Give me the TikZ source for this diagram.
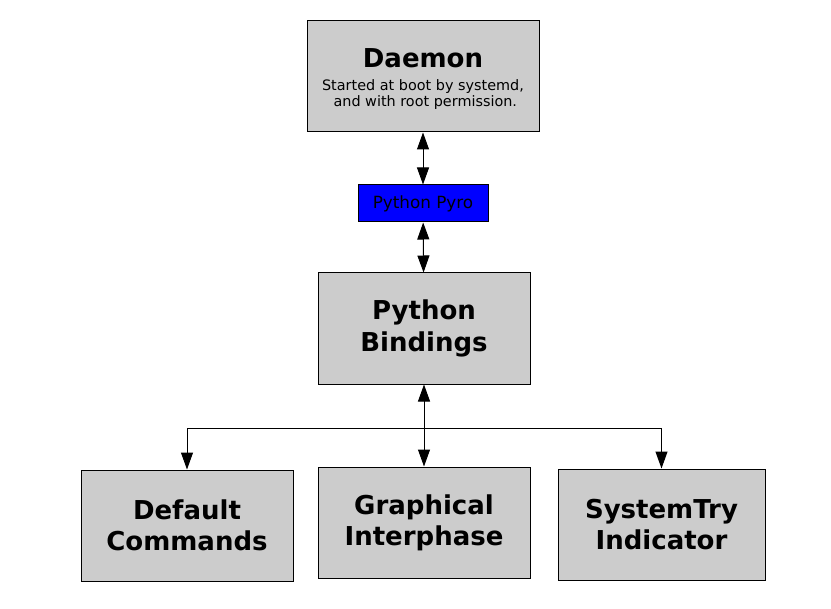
\documentclass[tikz,border=0pt]{standalone}
\usepackage{fontspec}
\setmainfont{DejaVu Sans}
\usepackage{tikz}
\usetikzlibrary{positioning,arrows.meta,calc}
\definecolor{boxgray}{RGB}{204,204,204}
\definecolor{pyroblue}{RGB}{0,0,255}
\tikzset{
  block/.style={draw=black, line width=0.75pt, fill=boxgray, align=center, inner sep=0pt, font=\fontsize{19.5}{23.5}\selectfont\bfseries},
  wide/.style={block, minimum width=159pt, minimum height=83.25pt},
  link/.style={draw=black, line width=0.75pt, fill=pyroblue, minimum width=97.5pt, minimum height=27.75pt, inner sep=0pt, font=\fontsize{12.6}{14}\selectfont},
  arr/.style={-{Triangle[length=12.75pt, width=9pt]}, line width=0.75pt, draw=black},
  biarr/.style={{Triangle[length=12.75pt, width=9pt]}-{Triangle[length=12.75pt, width=9pt]}, line width=0.75pt, draw=black},
}
\newcommand{\subline}[1]{{\mdseries\fontsize{10.8}{12}\selectfont #1}}
\begin{document}
\begin{tikzpicture}[x=0.75pt, y=-0.75pt]
    \useasboundingbox (0,0) rectangle (831,609);
    \node[block, minimum width=174pt, minimum height=83.25pt] (daemon) at (423,76.5)
      {\rule{0pt}{18pt}Daemon\\[-6.5pt] \subline{Started at boot by systemd,}\\[-11.5pt] \subline{\ and with root permission.}};
    \node[link] (pyro) at (423,203.5) {Python Pyro};
    \node[wide] (bind) at (424,328.5) {Python\\Bindings};
    \node[wide] (defcmd) at (187,525.5) {Default\\Commands};
    \node[wide] (gui) at (424,522.5) {Graphical\\Interphase};
    \node[wide, minimum width=155.25pt] (tray) at (661.5,524.5) {SystemTry\\Indicator};
    \draw[biarr] (daemon) -- (pyro);
    \draw[biarr] (pyro) -- (bind);
    \draw[biarr] (bind) -- (gui);
    \coordinate (split) at (424,428);
    \draw[arr] (split) -| (defcmd);
    \draw[arr] (split) -| (tray);
  \end{tikzpicture}
\end{document}
